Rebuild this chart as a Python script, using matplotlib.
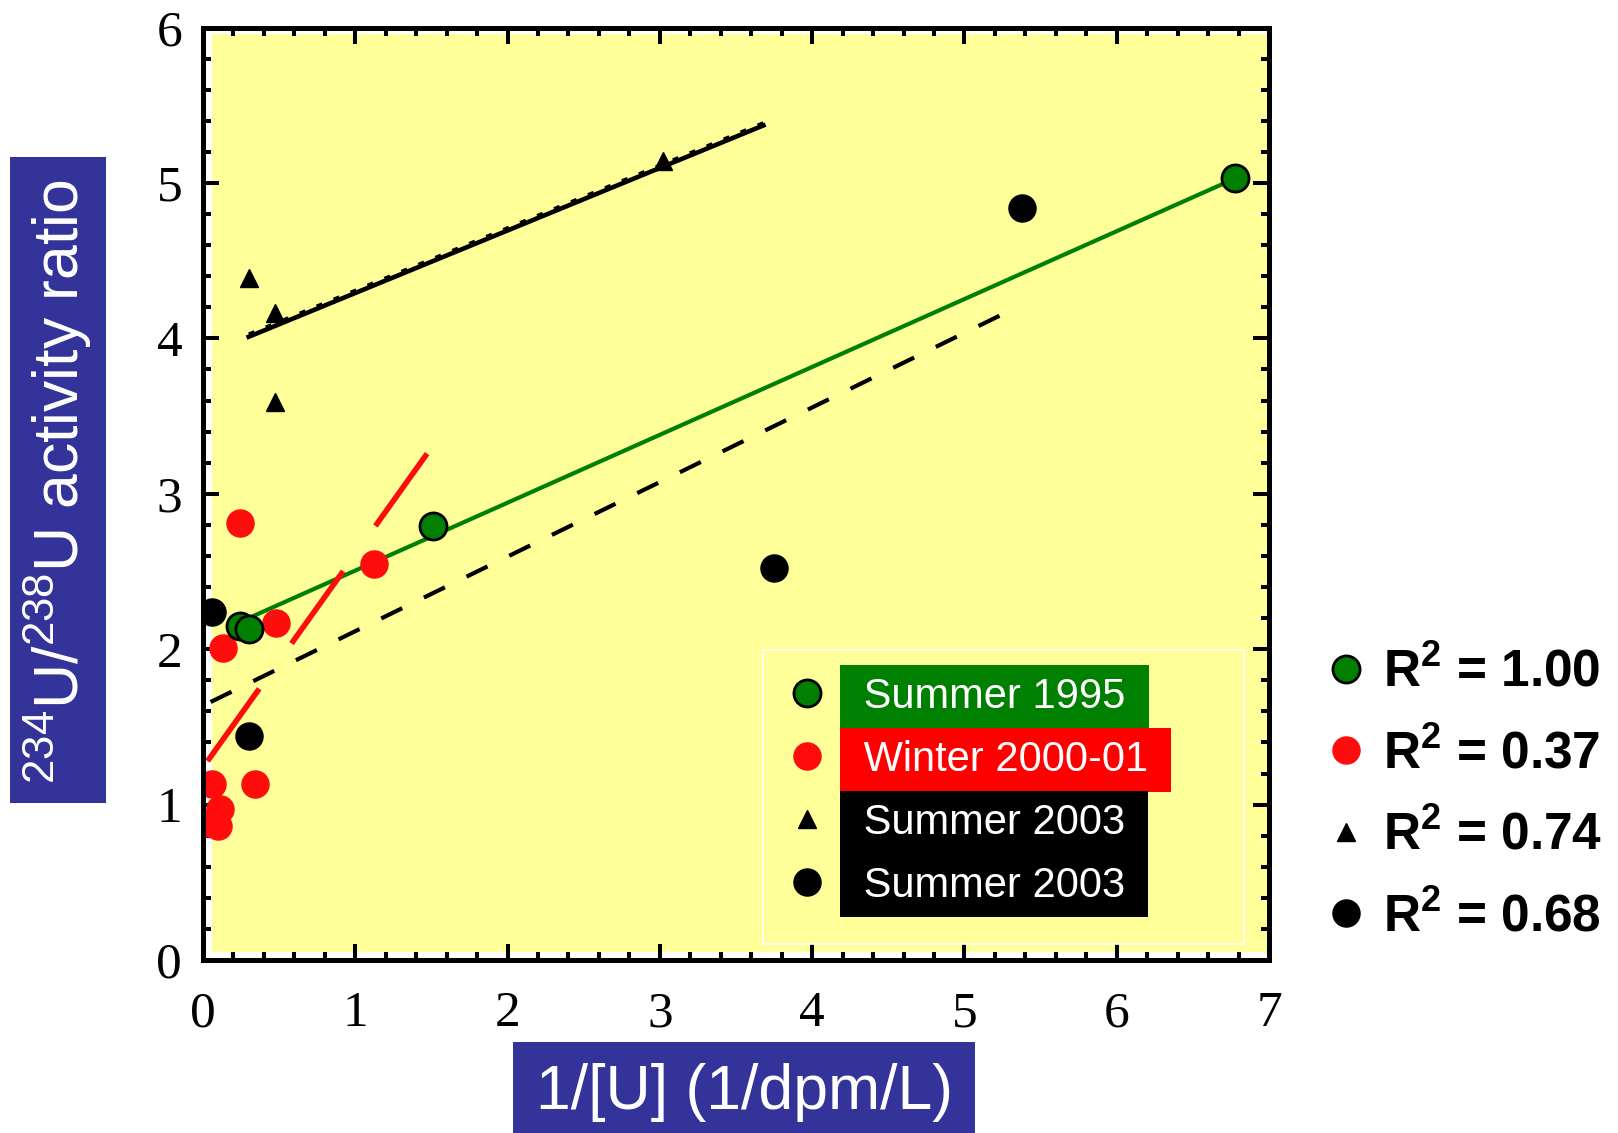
import numpy as np
import matplotlib.pyplot as plt
from matplotlib.patches import Rectangle
from matplotlib.ticker import MultipleLocator

plt.rcParams['font.family'] = ['Liberation Sans', 'DejaVu Sans']

# values
s95_x = [0.24, 0.30, 1.51, 6.78]
s95_y = [2.15, 2.13, 2.79, 5.03]
w00_x = [0.24, 0.48, 0.13, 1.12, 0.06, 0.34, 0.11, 0.04, 0.10]
w00_y = [2.81, 2.17, 2.01, 2.55, 1.13, 1.13, 0.97, 0.88, 0.86]
s03t_x = [0.30, 0.47, 0.47, 3.02]
s03t_y = [4.39, 4.16, 3.59, 5.14]
s03c_x = [0.06, 0.30, 3.75, 5.38]
s03c_y = [2.24, 1.44, 2.52, 4.84]

# regression lines, end points
fit_s95_x = [0.30, 6.78]
fit_s95_y = [2.20, 5.03]
fit_w00_x = [0.03, 1.48]
fit_w00_y = [1.28, 3.27]
fit_s03t_x = [0.30, 3.68]
fit_s03t_y = [4.01, 5.37]
fit_s03c_x = [0.05, 5.24]
fit_s03c_y = [1.66, 4.15]

labels = ['Summer 1995', 'Winter 2000-01', 'Summer 2003', 'Summer 2003']
label_colors = ['#008000', '#FF0000', 'black', 'black']
r2_values = [1.00, 0.37, 0.74, 0.68]

yellow = '#FFFF99'
navy = '#333399'
red = '#FF0D0D'

fig = plt.figure(figsize=(16.18, 11.33), dpi=100)
W, H = 1618, 1133
ax = fig.add_axes([203 / W, 1 - 960 / H, 1066 / W, 932.5 / H])
ax.set_xlim(0, 7)
ax.set_ylim(0, 6)

# yellow plot area, slightly inset from the frame
ax.add_patch(Rectangle((0.008, 0.0085), 0.992, 0.984, transform=ax.transAxes,
                       facecolor=yellow, edgecolor='none', zorder=0))

# fit lines
ax.plot(fit_s95_x, fit_s95_y, color='#008000', lw=3.0, zorder=2)
ax.plot(fit_w00_x, fit_w00_y, color=red, lw=4.0, dashes=(16, 10), zorder=2)
ax.plot(fit_s03c_x, fit_s03c_y, color='black', lw=3.0, dashes=(5.6, 5.8), zorder=2)
ax.plot(fit_s03t_x, fit_s03t_y, color='black', lw=3.3, zorder=2)
ax.plot(fit_s03t_x, np.array(fit_s03t_y) + 0.018, color='black', lw=2.2,
        dashes=(2, 4), zorder=2)

# data
h1, = ax.plot(s95_x, s95_y, ls='none', marker='o', ms=19.5, mfc='#007F00',
              mec='black', mew=2.0, zorder=4)
h2, = ax.plot(w00_x, w00_y, ls='none', marker='o', ms=19.5, color=red, zorder=3)
h3, = ax.plot(s03t_x, s03t_y, ls='none', marker='^', ms=13.5, color='black', zorder=3)
h4, = ax.plot(s03c_x, s03c_y, ls='none', marker='o', ms=19.5, color='black', zorder=3)
handles = [h1, h2, h3, h4]

# axes styling
for sp in ax.spines.values():
    sp.set_linewidth(3.6)
    sp.set_zorder(5)
ax.xaxis.set_major_locator(MultipleLocator(1))
ax.yaxis.set_major_locator(MultipleLocator(1))
ax.xaxis.set_minor_locator(MultipleLocator(0.2))
ax.yaxis.set_minor_locator(MultipleLocator(0.2))
ax.tick_params(which='both', direction='in', top=True, right=True, width=2.9)
ax.tick_params(which='major', length=11.3)
ax.tick_params(which='minor', length=5.5)
ax.tick_params(axis='y', which='major', pad=15)
ax.tick_params(axis='x', which='major', pad=22)
for lab in ax.get_xticklabels() + ax.get_yticklabels():
    lab.set_fontfamily('Liberation Serif')
    lab.set_fontsize(37)

# legend inside the plot
ax.add_patch(Rectangle((0.525, 0.017), 0.452, 0.315, transform=ax.transAxes,
                       facecolor='none', edgecolor='white', lw=1.2, zorder=5))
leg = ax.legend(handles, [' ' + s + ' ' for s in labels], loc='upper left',
                bbox_to_anchor=(0.547, 0.3035), frameon=False, fontsize=30,
                handlelength=1.0, handletextpad=0.58, labelspacing=0.55,
                borderpad=0, borderaxespad=0)
for txt, c in zip(leg.get_texts(), label_colors):
    txt.set_color('white')
    txt.set_bbox(dict(facecolor=c, edgecolor='none', boxstyle='square,pad=0.28'))
leg.set_zorder(6)

# R^2 legend outside the plot
fig.legend(handles, [r'R$\mathregular{^2}$ = ' + f'{v:.2f}' for v in r2_values],
           loc='upper left', bbox_to_anchor=(1320 / W, 1 - 648 / H), frameon=False,
           prop=dict(family='Liberation Sans', weight='bold', size=37),
           handlelength=1.0, handletextpad=0.22, labelspacing=0.62,
           borderpad=0, borderaxespad=0)

# axis titles in blue boxes
fig.add_artist(Rectangle((10 / W, 1 - 803 / H), 96 / W, 646 / H,
                         transform=fig.transFigure, facecolor=navy, edgecolor='none'))
fig.text(58 / W, 1 - 482 / H,
         r'$\mathregular{^{234}}$U/$\mathregular{^{238}}$U activity ratio',
         rotation=90, color='white', fontsize=45, ha='center', va='center')
fig.add_artist(Rectangle((513 / W, 0), 462 / W, 91 / H,
                         transform=fig.transFigure, facecolor=navy, edgecolor='none'))
fig.text(744 / W, 1 - 1092 / H, '1/[U] (1/dpm/L)', color='white', fontsize=45,
         ha='center', va='center')

fig.savefig('out.png', dpi=100)
